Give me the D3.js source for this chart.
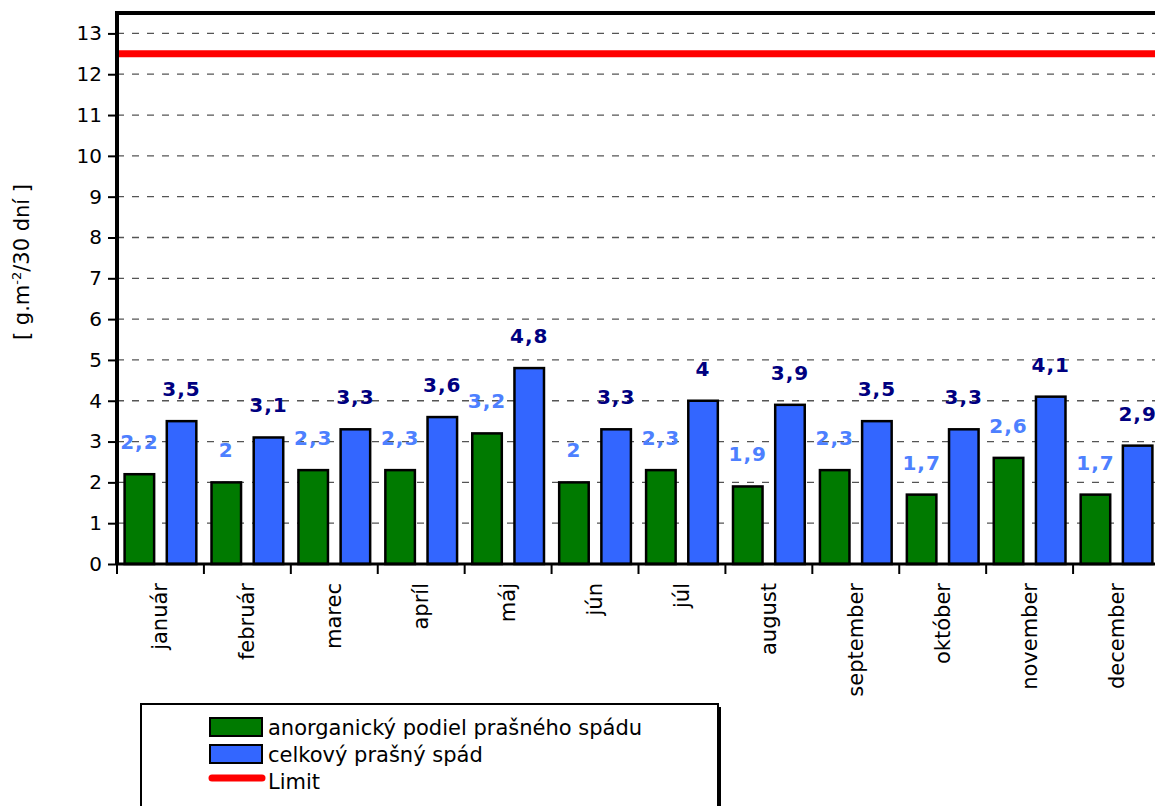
<!DOCTYPE html>
<html>
<head>
<meta charset="utf-8">
<script src="https://cdn.jsdelivr.net/npm/d3@7"></script>
<style>
  body { margin: 0; background: #fff; }
  svg { display: block; font-family: "Comic Sans MS", "DejaVu Sans", sans-serif; }
</style>
</head>
<body>
<div id="chart"></div>
<script>
// months and the two series
var months = ["január", "február", "marec", "apríl", "máj", "jún", "júl",
              "august", "september", "október", "november", "december"];
var inorganic = [2.2, 2, 2.3, 2.3, 3.2, 2, 2.3, 1.9, 2.3, 1.7, 2.6, 1.7];
var total = [3.5, 3.1, 3.3, 3.6, 4.8, 3.3, 4, 3.9, 3.5, 3.3, 4.1, 2.9];
var limit = 12.5;
var yTicks = [0, 1, 2, 3, 4, 5, 6, 7, 8, 9, 10, 11, 12, 13];
var seriesNames = ["anorganický podiel prašného spádu", "celkový prašný spád", "Limit"];

var W = 1155, H = 806;
var margin = {top: 13, left: 117},
    plotRight = 1160,
    plotBottom = 564;

var svg = d3.select("#chart").append("svg")
    .attr("width", W)
    .attr("height", H);

var x = d3.scaleBand()
    .domain(months)
    .range([margin.left, plotRight]);

var xSub = d3.scaleBand()
    .domain(["a", "b"])
    .range([0, x.bandwidth()])
    .paddingInner(0.3)
    .paddingOuter(0.18);

var y = d3.scaleLinear()
    .domain([0, 13.5])
    .range([plotBottom, margin.top]);

// dashed grid
svg.append("g")
  .selectAll("line")
  .data(yTicks.filter(d => d > 0))
  .enter()
  .append("line")
    .attr("x1", margin.left)
    .attr("x2", plotRight)
    .attr("y1", d => y(d))
    .attr("y2", d => y(d))
    .attr("stroke", "#555")
    .attr("stroke-width", 1.3)
    .attr("stroke-dasharray", "7,8");

// y axis
var yAxis = svg.append("g")
    .attr("transform", "translate(" + margin.left + ",0)")
    .call(d3.axisLeft(y).tickValues(yTicks).tickSize(9).tickPadding(6).tickFormat(d3.format("d")));
yAxis.select(".domain").remove();
yAxis.selectAll(".tick line").attr("stroke", "#000").attr("stroke-width", 2);
yAxis.selectAll(".tick text")
    .attr("font-size", 20)
    .attr("font-family", "\"Comic Sans MS\", \"DejaVu Sans\", sans-serif")
    .attr("fill", "#000");

// bars
var groups = svg.append("g")
  .selectAll("g")
  .data(months)
  .enter()
  .append("g")
    .attr("transform", d => "translate(" + x(d) + ",0)");

groups.append("rect")
    .attr("x", xSub("a"))
    .attr("width", xSub.bandwidth())
    .attr("y", (d, i) => y(inorganic[i]))
    .attr("height", (d, i) => plotBottom - y(inorganic[i]))
    .attr("fill", "#007a00")
    .attr("stroke", "#000")
    .attr("stroke-width", 2.5);

groups.append("rect")
    .attr("x", xSub("b"))
    .attr("width", xSub.bandwidth())
    .attr("y", (d, i) => y(total[i]))
    .attr("height", (d, i) => plotBottom - y(total[i]))
    .attr("fill", "#3366ff")
    .attr("stroke", "#000")
    .attr("stroke-width", 2.5);

var fmt = v => String(v).replace(".", ",");

groups.append("text")
    .attr("x", xSub("a") + xSub.bandwidth() / 2)
    .attr("y", (d, i) => y(inorganic[i]) - 25)
    .attr("text-anchor", "middle")
    .attr("font-size", 20)
    .attr("font-weight", "bold")
    .attr("letter-spacing", 1)
    .attr("fill", "#4d80ff")
    .text((d, i) => fmt(inorganic[i]));

groups.append("text")
    .attr("x", xSub("b") + xSub.bandwidth() / 2)
    .attr("y", (d, i) => y(total[i]) - 25)
    .attr("text-anchor", "middle")
    .attr("font-size", 20)
    .attr("font-weight", "bold")
    .attr("letter-spacing", 1)
    .attr("fill", "#000080")
    .text((d, i) => fmt(total[i]));

// limit line
svg.append("line")
    .attr("x1", margin.left)
    .attr("x2", plotRight)
    .attr("y1", y(limit))
    .attr("y2", y(limit))
    .attr("stroke", "#ff0000")
    .attr("stroke-width", 7);

// x axis with ticks at band edges
var xAxis = svg.append("g")
    .attr("transform", "translate(0," + plotBottom + ")");
xAxis.append("line")
    .attr("x1", margin.left)
    .attr("x2", plotRight)
    .attr("stroke", "#000")
    .attr("stroke-width", 3);
xAxis.selectAll(".edge")
  .data(months)
  .enter()
  .append("line")
    .attr("x1", d => x(d))
    .attr("x2", d => x(d))
    .attr("y1", 0)
    .attr("y2", 10)
    .attr("stroke", "#000")
    .attr("stroke-width", 2);
xAxis.selectAll(".lbl")
  .data(months)
  .enter()
  .append("text")
    .attr("transform", d => "translate(" + (x(d) + x.bandwidth() / 2 + 7) + ",19) rotate(-90)")
    .attr("text-anchor", "end")
    .attr("font-size", 21)
    .text(d => d);

// plot frame (left and top)
svg.append("line")
    .attr("x1", margin.left).attr("x2", margin.left)
    .attr("y1", margin.top - 2).attr("y2", plotBottom + 1)
    .attr("stroke", "#000").attr("stroke-width", 4);
svg.append("line")
    .attr("x1", margin.left - 2).attr("x2", plotRight)
    .attr("y1", margin.top).attr("y2", margin.top)
    .attr("stroke", "#000").attr("stroke-width", 4);

// y title
var yt = svg.append("text")
    .attr("transform", "translate(29,262) rotate(-90)")
    .attr("text-anchor", "middle")
    .attr("font-size", 21);
yt.append("tspan").text("[ g.m");
yt.append("tspan").attr("font-size", 13).attr("dy", -8).text("-2");
yt.append("tspan").attr("dy", 8).text("/30 dní ]");

// legend
var legend = svg.append("g");
legend.append("rect")
    .attr("x", 144).attr("y", 707)
    .attr("width", 577).attr("height", 120)
    .attr("fill", "#000");
legend.append("rect")
    .attr("x", 141).attr("y", 704)
    .attr("width", 577).attr("height", 120)
    .attr("fill", "#fff")
    .attr("stroke", "#000")
    .attr("stroke-width", 2);

var swatchColors = ["#007a00", "#3366ff"];
legend.selectAll(".sw")
  .data(swatchColors)
  .enter()
  .append("rect")
    .attr("x", 210)
    .attr("y", (d, i) => 718 + i * 27)
    .attr("width", 52)
    .attr("height", 18)
    .attr("fill", d => d)
    .attr("stroke", "#000")
    .attr("stroke-width", 2);
legend.append("line")
    .attr("x1", 212).attr("x2", 262)
    .attr("y1", 778).attr("y2", 778)
    .attr("stroke", "#ff0000")
    .attr("stroke-width", 7)
    .attr("stroke-linecap", "round");
legend.selectAll(".lt")
  .data(seriesNames)
  .enter()
  .append("text")
    .attr("x", 268)
    .attr("y", (d, i) => 735 + i * 27)
    .attr("font-size", 21)
    .text(d => d);
</script>
</body>
</html>
